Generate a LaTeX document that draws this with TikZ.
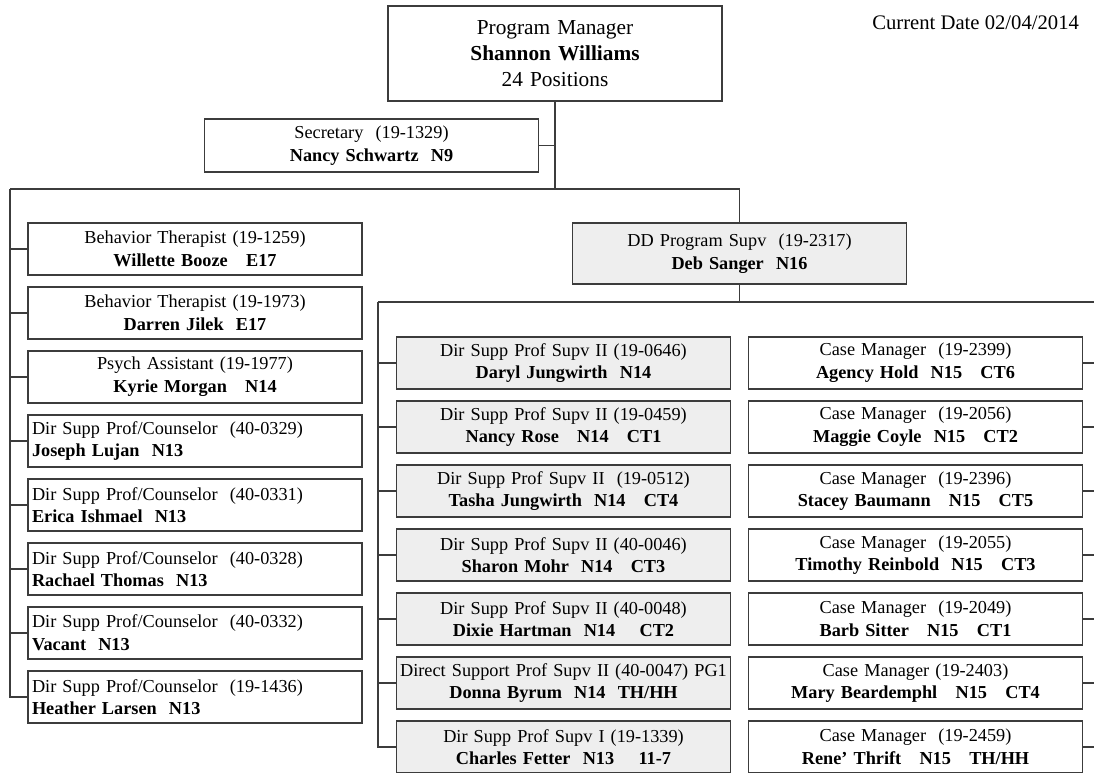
\documentclass[tikz,border=0pt]{standalone}
\usepackage{fontspec}
\setmainfont{Liberation Serif}
\definecolor{boxline}{HTML}{3C3C3C}
\definecolor{boxfill}{HTML}{EEEEEE}
\def\rowsep{64}

\begin{document}
\begin{tikzpicture}[x=0.75pt,y=-0.75pt,draw=boxline,line width=1pt]
  \tikzstyle{post}=[draw=boxline,line width=1.1pt,fill=white,inner xsep=3pt,inner ysep=0pt,text width=244.5pt,minimum height=39pt,align=center,font=\fontsize{13.7}{17}\selectfont]
  \tikzstyle{post left}=[post,align=left]
  \tikzstyle{supv post}=[post,fill=boxfill]

  \useasboundingbox (0,0) rectangle (1094,773);

  % Top of the chart
  \node[post,minimum height=71.25pt,font=\fontsize{16}{19.5}\selectfont] (pm) at (555,53.5)
    {Program Manager\\\textbf{Shannon Williams}\\24 Positions};
  \node[anchor=base east,font=\fontsize{15.5}{18}\selectfont] (date) at (1084,30) {Current Date 02/04/2014};
  \node[post,minimum height=39.75pt] (sec) at (371.5,145.5) {Secretary~~(19-1329)\\\textbf{Nancy Schwartz~~N9}};
  \node[supv post,minimum height=45.75pt] (dd) at (739.5,253.5) {DD Program Supv~~(19-2317)\\\textbf{Deb Sanger~~N16}};

  % Left column
  \foreach \i/\job/\who in {0/{Behavior Therapist (19-1259)}/{Willette Booze~~~E17},
    1/{Behavior Therapist (19-1973)}/{Darren Jilek~~E17},
    2/{Psych Assistant (19-1977)}/{Kyrie Morgan~~~N14}}
  \node[post] (A-\i) at (195,249+\rowsep*\i) {\job\\\textbf{\who}};

  \foreach \i/\job/\who in {3/{Dir Supp Prof/Counselor~~(40-0329)}/{Joseph Lujan~~N13},
    4/{Dir Supp Prof/Counselor~~(40-0331)}/{Erica Ishmael~~N13},
    5/{Dir Supp Prof/Counselor~~(40-0328)}/{Rachael Thomas~~N13},
    6/{Dir Supp Prof/Counselor~~(40-0332)}/{Vacant~~N13},
    7/{Dir Supp Prof/Counselor~~(19-1436)}/{Heather Larsen~~N13}}
  \node[post left] (A-\i) at (195,249+\rowsep*\i) {\job\\\textbf{\who}};

  % Supervisors under DD
  \foreach \i/\job/\who in {0/{Dir Supp Prof Supv II (19-0646)}/{Daryl Jungwirth~~N14},
    1/{Dir Supp Prof Supv II (19-0459)}/{Nancy Rose~~~N14\quad CT1},
    2/{Dir Supp Prof Supv II~~(19-0512)}/{Tasha Jungwirth~~N14\quad CT4},
    3/{Dir Supp Prof Supv II (40-0046)}/{Sharon Mohr~~N14\quad CT3},
    4/{Dir Supp Prof Supv II (40-0048)}/{Dixie Hartman~~N14\quad~CT2},
    5/{Direct Support Prof Supv II (40-0047) PG1}/{Donna Byrum~~N14~~TH/HH},
    6/{Dir Supp Prof Supv I (19-1339)}/{Charles Fetter~~N13\quad~11-7}}
  \node[supv post] (M-\i) at (563.5,363+\rowsep*\i) {\makebox[\linewidth]{\job}\\\textbf{\who}};

  % Case managers
  \foreach \i/\job/\who in {0/{Case Manager~~(19-2399)}/{Agency Hold~~N15\quad CT6},
    1/{Case Manager~~(19-2056)}/{Maggie Coyle~~N15\quad CT2},
    2/{Case Manager~~(19-2396)}/{Stacey Baumann\quad N15\quad CT5},
    3/{Case Manager~~(19-2055)}/{Timothy Reinbold~~N15\quad CT3},
    4/{Case Manager~~(19-2049)}/{Barb Sitter~~~N15\quad CT1},
    5/{Case Manager (19-2403)}/{Mary Beardemphl~~~N15\quad CT4},
    6/{Case Manager~~(19-2459)}/{Rene' Thrift~~~N15\quad TH/HH}}
  \node[post] (C-\i) at (915.5,363+\rowsep*\i) {\job\\\textbf{\who}};

  % Connect nodes
  \coordinate (bar) at (10,189);
  \coordinate (mid) at (378,302);
  \coordinate (edge) at (1094,302);

  \draw (pm.south) -- (pm.south |- bar);
  \draw (sec.east) -- (sec.east -| pm.south);
  \draw (bar) -- (bar -| dd.north) -- (dd.north);
  \draw (dd.south) -- (dd.south |- mid);
  \draw (mid) -- (edge);

  \foreach \i in {0,...,7}
  \draw (bar) |- (A-\i.west);

  \foreach \i in {0,...,6}
  \draw (mid) |- (M-\i.west);

  \foreach \i in {0,...,6}
  \draw (C-\i.east) -- (C-\i.east -| edge);
\end{tikzpicture}
\end{document}
